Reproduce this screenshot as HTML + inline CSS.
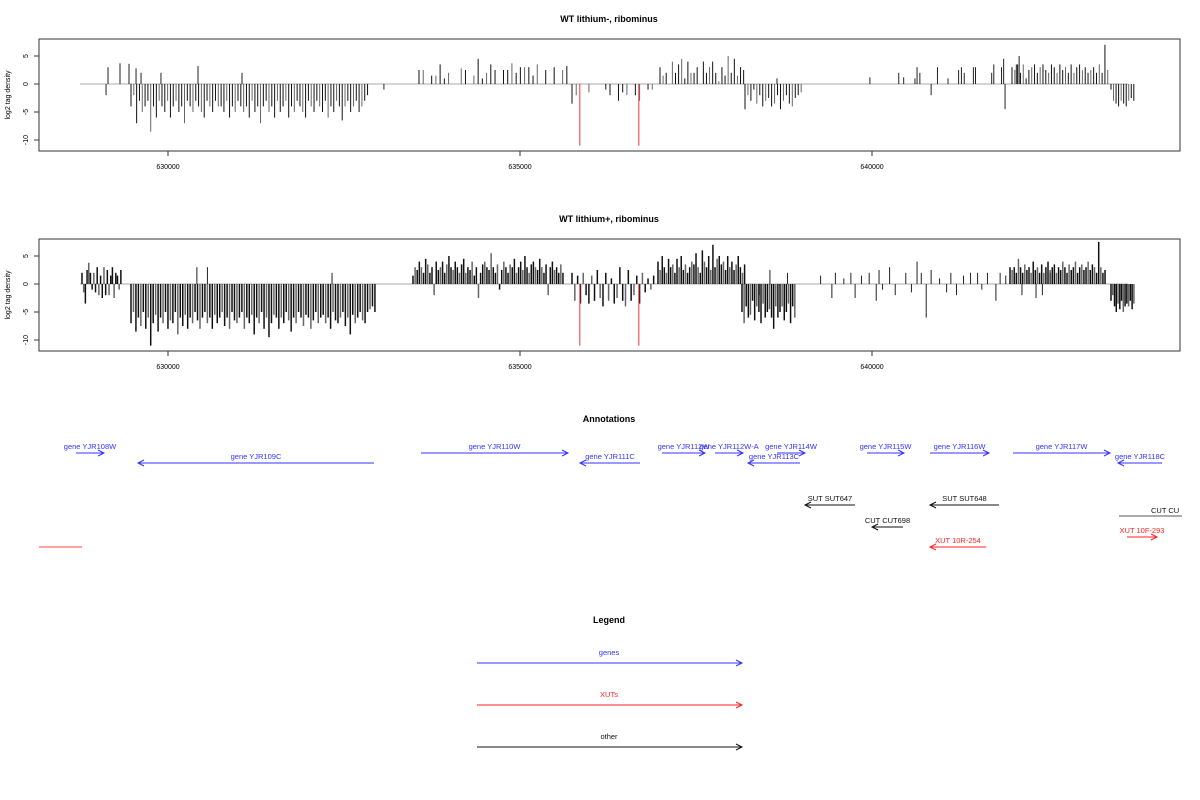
<!DOCTYPE html>
<html><head><meta charset="utf-8">
<style>
html,body{margin:0;padding:0;background:#fff;}
svg{display:block;font-family:"Liberation Sans",sans-serif;}
</style></head>
<body>
<svg id="chart" width="1200" height="800" viewBox="0 0 1200 800">
  <g id="panel1">
    <text x="609" y="22" text-anchor="middle" font-size="9" font-weight="bold">WT lithium-, ribominus</text>
  </g>
  <g id="panel2">
    <text x="609" y="222" text-anchor="middle" font-size="9" font-weight="bold">WT lithium+, ribominus</text>
  </g>
  <g id="annot">
    <text x="609" y="422" text-anchor="middle" font-size="9" font-weight="bold">Annotations</text>
  </g>
  <g id="legend">
    <text x="609" y="623" text-anchor="middle" font-size="9" font-weight="bold">Legend</text>
  </g>
</svg>
<script>
// ---- data ----
const xTicks = [630000, 635000, 640000];
const yTicks = [5, 0, -5, -10];
const trackStart = 628750, trackEnd = 643640;

// panel 1 dense segments
const p1NegVals = [-4,-2,-7,-3,-5,-4,-3,-8.5,-4,-6,-3,-4,-5,-3,-6,-4,-3,-5,-4,-7,-3,-4,-5,-3,-4,-5,-6,-3,-4,-5,-3,-4,-4,-5,-3,-6,-4,-5,-3,-4,-5,-4,-6,-3,-5,-4,-7,-4,-3,-5,-4,-6,-3,-5,-4,-3,-6,-4,-5,-3,-4,-5,-6,-3,-4,-5,-3,-4,-5,-3,-6,-4,-5,-3,-4,-6.5,-4,-3,-5,-4,-3,-5,-4,-3,-2];
const p1Pos1Vals = [2.5,2.5,0,1.5,1.5,3.5,1,2,0,0,2.8,2.5,0,1.5,4.5,1,2,3.5,2.5,0,2.5,2.5,3.7,2,3,3,3,1.5,3.5,0,2.5,0,3,0,2.5,3.2];
const p1MidVals = [-3.5,-2,0,0,-1.5,0,0,0,-1,-2,0,-3,-1.5,-2,0,-2,-3,0,-1,-1];
const p1Pos2Vals = [3,1.5,2,0,4,2,3.5,4.5,1,4,2,2,3,0,4,2,3,4,2,0.5,3,1.5,5,2,4.5,1.5,3,2.5];
const p1Neg2Vals = [-4.5,-2,-3,-1,-3.5,-2,-4,-3,-2.5,-4,-3.5,-2,-4.5,-3,-2,-3.5,-4,-2.5,-2,-1.5];
const p1Pos3Vals = [3,2.5,3.5,2,3.5,1,2.5,3,3.5,2,3,3.5,2.5,2,3.5,3,2,3.5,2.5,3,2,3.5,2,3,3.5,2.5,3,2,2.5,3,2,3.5,2,7,2.5];
const p1Neg3Vals = [-1,-3,-3.5,-4,-3,-3.5,-4,-3,-2.5,-3];
const p1SparsePos = [629120,629148,629318,629446,629546,629617,629900,630426,631051,633067,638650,639970,640380,640450,640610,640640,640680,640840,640930,641080,641230,641270,641310,641440,641470,641700,641730,641840,641870,641890,642050,642090];
const p1SparseVals = [-2,3,3.7,3.6,2.8,2,2,3.2,2,-1,1,1.2,2,1.2,1,3,2,-2,3,1,2.5,3,2,3,3,2,3.5,3,4.5,-4.5,3.5,5];
const redPos = [635850, 636688];
const redVals = [-11, -11];

// panel 2 dense segments
const p2LeftVals = [2,-1.5,-3.5,2.5,3.8,2,-1,2,-1.5,3,-2,1.5,-2.5,3,-2,2.5,-2,1.5,3,-2.5,2,1.5,-1,2.5];
const p2NegVals = [-7,-5,-8.5,-6,-7.5,-5,-8,-6,-11,-7,-5.5,-8.5,-6,-7,-5,-8,-6.5,-7,-5,-9,-6,-7.5,-5.5,-8,-6,-7,-5,-6.5,-8,-6,-5,-7,-6,-8,-5.5,-7,-6,-5,-7.5,-6,-8,-5,-6.5,-7,-6,-5,-8,-6,-7,-5.5,-9,-6,-7,-5,-8,-6,-9.5,-7,-5.5,-6,-8,-6,-7,-5,-6.5,-8.5,-6,-7,-5,-6,-7.5,-5.5,-6,-8,-6.5,-5,-7,-6,-5.5,-7,-6,-8,-5,-6.5,-7,-6,-5,-7.5,-6,-9,-5.5,-7,-6,-5,-6.5,-7,-5,-4.5,-4,-5];
const p2Pos1Vals = [1.5,3,2.5,4,3,2,4.5,3.5,2,3,-2,4,2.5,3,4,2,3.5,5,3,2.5,4,3,2,3.5,4.5,2,3,2.5,4,1.5,3,-2.5,2,3.5,4,3,2.5,5.5,3,2,3.5,-1,2.5,4,3,2,3.5,3,4.5,2,3,4,2.5,5,3,2,3.5,4,3,2.5,4.5,3,2,3.5,-2,3,4,2.5,3,2,3.5,2];
const p2MidVals = [2,-3,1.5,-3.5,2,-2,-3.5,1.5,-3,2.5,-2.5,-4,2,-3,1,-3.5,-2.5,3,-3,-4,2.5,-3,-2,1.5,-3.5,2,-1.5,1,-1,1.5];
const p2Pos2Vals = [4,2.5,5,3,2,4.5,3,3.5,2,4.5,3,5,2.5,3.5,2,3,4,3.5,5.5,3,2,6,4,3,5,2.5,7,3,4.5,5,3.5,4,2.5,5,3,4,2.5,3.5,5,3,2,3.5];
const p2Neg2Vals = [-5,-7,-4,-6,-5.5,-3,-6.5,-4,-5,-7,-3.5,-6,-5,-4.5,-6,-8,-4,-6,-5,-4,-6.5,-5,-3.5,-7,-4,-6];
const p2Pos3Vals = [3,2.5,3,2,4.5,3,2,3.5,2.5,3,2,4,2.5,3,2,3.5,2,3,4,2.5,3,3.5,2,3,2.5,4,3,2,3.5,2.5,3,4,2,3,3.5,2.5,3,4,2.5,3.5,3,2,7.5,3,2,2.5];
const p2Neg3Vals = [-3,-2,-4,-5,-3.5,-4.5,-3,-5,-4,-3.5,-4,-3,-4.5,-3.5];
const p2SparsePos = [630410,630560,632330,638400,638550,638800,639270,639430,639480,639600,639700,639760,639850,639960,640060,640100,640150,640250,640330,640480,640560,640640,640700,640770,640840,640960,641060,641120,641200,641300,641400,641500,641560,641640,641760,641820,641900,642130,642330,642420,642530];
const p2SparseVals = [3,3,2,-2,2.5,2,1.5,-2.5,2,1,2,-2.5,1.5,2,-3,2.5,-1,3,-2,2,-1.5,4,2,-6,2.5,1,-1.5,2,-2,1.5,2,2,-1,2,-3,2,1.5,-2,-2.5,-2,2];

// ---- geometry ----
const px0 = 168, pxPerBp = 0.0704;
const xs = p => px0 + (p - 630000) * pxPerBp;
const yScale = 5.6;
const panels = [
  {id:'panel1', top:39, zero:84},
  {id:'panel2', top:239, zero:284}
];
const bp = x => 630000 + (x - 168) / pxPerBp;
const p1Segs = [
  [bp(131), 40, p1NegVals], [bp(419), 60, p1Pos1Vals], [bp(572), 60, p1MidVals],
  [bp(660), 44, p1Pos2Vals], [bp(745), 42, p1Neg2Vals], [bp(1012), 40, p1Pos3Vals], [bp(1111), 36, p1Neg3Vals]
];
const p2Segs = [
  [bp(82), 24, p2LeftVals], [bp(131), 35, p2NegVals], [bp(413), 30, p2Pos1Vals], [bp(572), 40, p2MidVals],
  [bp(658), 30, p2Pos2Vals], [bp(742), 30, p2Neg2Vals], [bp(1010), 30, p2Pos3Vals], [bp(1111), 25, p2Neg3Vals]
];
const NS = 'http://www.w3.org/2000/svg';
function mk(tag, attrs, parent){
  const e = document.createElementNS(NS, tag);
  for (const k in attrs) e.setAttribute(k, attrs[k]);
  parent.appendChild(e); return e;
}

function drawPanel(pi, segs, sPos, sVals, sw){
  const P = panels[pi];
  const g = document.getElementById(P.id);
  const ys = v => P.zero - v * yScale;
  const box = mk('rect', {x:39, y:P.top, width:1141, height:112, fill:'none', stroke:'#333', 'stroke-width':1}, g);
  
  
  const base = mk('line', {x1:xs(trackStart), x2:xs(trackEnd), y1:P.zero, y2:P.zero, stroke:'#aaa', 'stroke-width':1}, g);
  
  
  const bars = mk('g', {}, g);
  
  
  segs.forEach(([start, step, vals]) => {
    vals.forEach((v, i) => {
      if (!v) return;
      const x = xs(start + i * step);
      const b = mk('line', {x1:x, x2:x, y1:P.zero, y2:ys(v), stroke: i % 3 === 1 ? '#666' : '#111', 'stroke-width':sw}, bars);
      
      
    });
  });
  sPos.forEach((p, i) => {
    const x = xs(p);
    const b = mk('line', {x1:x, x2:x, y1:P.zero, y2:ys(sVals[i]), stroke:'#222', 'stroke-width':1}, bars);
    
    
  });
  redPos.forEach((p, i) => {
    const x = xs(p);
    const b = mk('line', {x1:x, x2:x, y1:P.zero, y2:ys(redVals[i]), stroke:'#e33', 'stroke-width':1}, bars);
    
    
  });
  // y axis
  yTicks.forEach(t => {
    const y = ys(t);
    const tk = mk('line', {x1:34, x2:39, y1:y, y2:y, stroke:'#333'}, g);
    
    
    const lb = mk('text', {x:0, y:0, 'font-size':7, 'text-anchor':'middle', transform:`translate(28,${y}) rotate(-90)`}, g);
    lb.textContent = t;
    
    
  });
  const yt = mk('text', {x:0, y:0, 'font-size':7, 'text-anchor':'middle', transform:`translate(10,${P.zero + 11}) rotate(-90)`}, g);
  yt.textContent = 'log2 tag density';
  
  
  // x axis
  xTicks.forEach(t => {
    const x = xs(t);
    const tk = mk('line', {x1:x, x2:x, y1:P.top + 112, y2:P.top + 117, stroke:'#333'}, g);
    
    
    const lb = mk('text', {x:x, y:P.top + 130, 'font-size':7, 'text-anchor':'middle'}, g);
    lb.textContent = t;
    
    
  });
}
drawPanel(0, p1Segs, p1SparsePos, p1SparseVals, 1);
drawPanel(1, p2Segs, p2SparsePos, p2SparseVals, 1.5);

// ---- annotations ----
const annLabels = ['gene YJR108W','gene YJR109C','gene YJR110W','gene YJR111C','gene YJR112W','gene YJR112W-A','gene YJR113C','gene YJR114W','gene YJR115W','gene YJR116W','gene YJR117W','gene YJR118C','SUT SUT647','SUT SUT648','CUT CUT698','XUT 10R-254','XUT 10F-293'];
const annFrom = [76,374,421,640,662,715,800,777,867,930,1013,1162,855,999,903,986,1127];
const annTo = [104,138,568,580,705,743,748,805,904,989,1110,1118,805,930,872,930,1157];
const annRow = [453,463,453,463,453,453,463,453,453,453,453,463,505,505,527,547,537];
const annKind = ['g','g','g','g','g','g','g','g','g','g','g','g','o','o','o','x','x'];
const colors = {g:'#3333ff', o:'#111', x:'#ff2222'};
const ag = document.getElementById('annot');
function arrow(g, x1, x2, y, col, name){
  const grp = mk('g', {}, g);
  
  
  mk('line', {x1:x1, x2:x2, y1:y, y2:y, stroke:col, 'stroke-width':1}, grp);
  const d = x2 > x1 ? -6 : 6;
  mk('polyline', {points:`${x2+d},${y-3} ${x2},${y} ${x2+d},${y+3}`, fill:'none', stroke:col, 'stroke-width':1}, grp);
  return grp;
}
annLabels.forEach((lab, i) => {
  const col = colors[annKind[i]];
  const grp = arrow(ag, annFrom[i], annTo[i], annRow[i], col, 'annotation-' + lab.toLowerCase().replace(/[^a-z0-9]+/g, '-'));
  const t = mk('text', {x:(annFrom[i] + annTo[i]) / 2, y:annRow[i] - 4, 'font-size':7.5, 'text-anchor':'middle', fill:col}, grp);
  t.textContent = lab;
});
const cutLine = mk('line', {x1:1119, x2:1182, y1:516, y2:516, stroke:'#555'}, ag);


const cutTxt = mk('text', {x:1151, y:513, 'font-size':7.5, 'text-anchor':'start', fill:'#111'}, ag);
cutTxt.textContent = 'CUT CU';


const redLine = mk('line', {x1:39, x2:82, y1:547, y2:547, stroke:'#ff4444'}, ag);



// ---- legend ----
const legLabels = ['genes', 'XUTs', 'other'];
const legKinds = ['g', 'x', 'o'];
const legRows = [663, 705, 747];
const lg = document.getElementById('legend');
legLabels.forEach((lab, i) => {
  const grp = arrow(lg, 477, 742, legRows[i], colors[legKinds[i]], 'legend-entry-' + lab.toLowerCase());
  const t = mk('text', {x:609, y:legRows[i] - 8, 'font-size':7.5, 'text-anchor':'middle', fill:colors[legKinds[i]]}, grp);
  t.textContent = lab;
});
</script>
</body></html>
